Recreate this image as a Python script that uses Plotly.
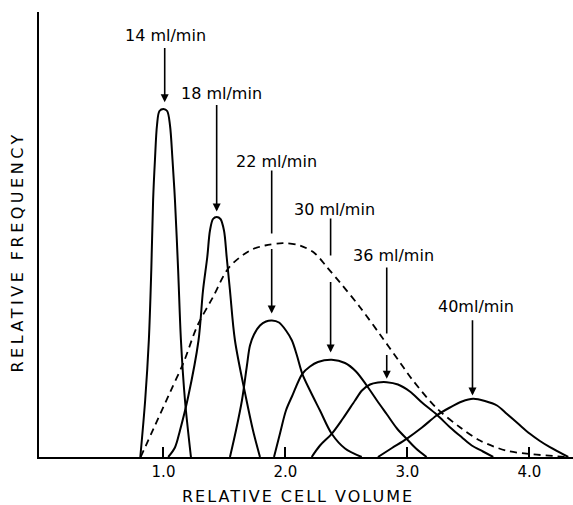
import plotly.graph_objects as go

# ---------------- data ----------------
x_14 = [0.81, 0.85, 0.88, 0.90, 0.915, 0.93, 0.947, 0.967, 1.0, 1.03, 1.053, 1.074, 1.094, 1.12, 1.143, 1.176, 1.225]
y_14 = [0, 0.57, 1.17, 1.87, 2.57, 2.97, 3.32, 3.46, 3.48, 3.46, 3.32, 2.97, 2.57, 1.87, 1.17, 0.57, 0]

x_18 = [1.039, 1.094, 1.135, 1.201, 1.287, 1.324, 1.359, 1.381, 1.406, 1.436, 1.467, 1.496, 1.518, 1.545, 1.586, 1.676, 1.734, 1.791]
y_18 = [0, 0.095, 0.265, 0.595, 1.165, 1.665, 2.0, 2.265, 2.38, 2.40, 2.38, 2.265, 2.0, 1.665, 1.165, 0.595, 0.265, 0]

x_22 = [1.545, 1.594, 1.643, 1.684, 1.709, 1.742, 1.791, 1.840, 1.889, 1.947, 2.004, 2.053, 2.094, 2.138, 2.201, 2.283, 2.379, 2.488, 2.625]
y_22 = [0, 0.265, 0.565, 0.915, 1.115, 1.225, 1.315, 1.355, 1.365, 1.345, 1.265, 1.165, 1.015, 0.832, 0.665, 0.465, 0.232, 0.085, 0]

x_30 = [1.906, 1.955, 2.004, 2.053, 2.138, 2.201, 2.266, 2.379, 2.488, 2.578, 2.666, 2.750, 2.832, 2.914, 2.993, 3.070, 3.157]
y_30 = [0, 0.235, 0.465, 0.605, 0.832, 0.905, 0.95, 0.972, 0.94, 0.855, 0.715, 0.565, 0.425, 0.285, 0.182, 0.085, 0]

x_36 = [2.215, 2.283, 2.379, 2.471, 2.570, 2.627, 2.693, 2.758, 2.830, 2.922, 3.020, 3.119, 3.239, 3.348, 3.447, 3.527, 3.619, 3.703]
y_36 = [0, 0.115, 0.232, 0.385, 0.565, 0.665, 0.725, 0.745, 0.748, 0.725, 0.655, 0.545, 0.425, 0.298, 0.195, 0.115, 0.055, 0]

x_40 = [2.758, 2.873, 2.993, 3.119, 3.239, 3.348, 3.447, 3.539, 3.635, 3.734, 3.816, 3.906, 4.004, 4.086, 4.168, 4.318]
y_40 = [0, 0.09, 0.182, 0.295, 0.415, 0.495, 0.555, 0.582, 0.56, 0.515, 0.43, 0.335, 0.232, 0.16, 0.098, 0]

x_total = [0.813, 0.930, 1.053, 1.168, 1.275, 1.406, 1.537, 1.709, 1.832, 1.980, 2.119, 2.242, 2.340, 2.447,
           2.611, 2.775, 2.939, 3.045, 3.242, 3.430, 3.594, 3.807, 4.004, 4.307]
y_total = [0, 0.315, 0.645, 0.955, 1.305, 1.60, 1.895, 2.065, 2.115, 2.138, 2.115, 2.035, 1.898, 1.745,
           1.498, 1.225, 0.945, 0.765, 0.485, 0.298, 0.165, 0.065, 0.03, 0]

flow_labels = ["14 ml/min", "18 ml/min", "22 ml/min", "30 ml/min", "36 ml/min", "40ml/min"]
tick_vals = [1, 2, 3, 4]
tick_text = ["1.0", "2.0", "3.0", "4.0"]

# ---------------- figure ----------------
fig = go.Figure()
curves = [(x_14, y_14), (x_18, y_18), (x_22, y_22), (x_30, y_30), (x_36, y_36), (x_40, y_40)]
for (xs, ys), name in zip(curves, flow_labels):
    fig.add_trace(go.Scatter(x=xs, y=ys, mode="lines", name=name,
                             line=dict(color="black", width=2, shape="spline", smoothing=0.9),
                             hoverinfo="skip", showlegend=False))
fig.add_trace(go.Scatter(x=x_total, y=y_total, mode="lines", name="total",
                         line=dict(color="black", width=1.8, dash="7px,5px", shape="spline", smoothing=0.9),
                         hoverinfo="skip", showlegend=False))

# arrows: (x, tail y, tip y, gap top, gap bottom) ; labels: (x, y)
arrows = [
    (1.01, 4.105, 3.548, None, None),
    (1.436, 3.535, 2.455, None, None),
    (1.887, 2.865, 1.435, 2.235, 2.095),
    (2.370, 2.385, 1.045, 2.015, 1.765),
    (2.830, 1.895, 0.782, 1.235, 1.035),
    (3.533, 1.382, 0.615, None, None),
]
label_pos = [(1.02, 4.215), (1.477, 3.632), (1.93, 2.958), (2.398, 2.472), (2.889, 2.015), (3.561, 1.505)]

FONT = "DejaVu Sans"
for (ax_, tail, tip, gtop, gbot), (lx, ly), txt in zip(arrows, label_pos, flow_labels):
    start = tail
    if gtop is not None:
        fig.add_shape(type="line", x0=ax_, x1=ax_, y0=tail, y1=gtop, xref="x", yref="y",
                      line=dict(color="black", width=1.6))
        start = gbot
    fig.add_annotation(x=ax_, y=tip, ax=ax_, ay=start, xref="x", yref="y", axref="x", ayref="y",
                       text="", showarrow=True, arrowhead=2, arrowsize=1, arrowwidth=1.6,
                       arrowcolor="black", standoff=0, startstandoff=0)
    fig.add_annotation(x=lx, y=ly, xref="x", yref="y", text=txt, showarrow=False,
                       font=dict(family=FONT, size=16, color="black"),
                       xanchor="center", yanchor="middle")

# axis titles (as annotations for exact placement)
fig.add_annotation(x=0.485, y=-0.088, xref="paper", yref="paper", showarrow=False,
                   text='<span style="letter-spacing:2px">RELATIVE CELL VOLUME</span>',
                   font=dict(family=FONT, size=16, color="black"), xanchor="center", yanchor="middle")
fig.add_annotation(x=-0.040, y=0.461, xref="paper", yref="paper", showarrow=False, textangle=-90,
                   text='<span style="letter-spacing:3.5px">RELATIVE FREQUENCY</span>',
                   font=dict(family=FONT, size=16, color="black"), xanchor="center", yanchor="middle")

fig.update_layout(
    width=573, height=505,
    margin=dict(l=39, r=0, t=12, b=48, pad=0),
    paper_bgcolor="white", plot_bgcolor="white",
    showlegend=False,
    xaxis=dict(range=[-0.0205, 4.357], showgrid=False, zeroline=False,
               showline=True, linecolor="black", linewidth=2,
               tickmode="array", tickvals=tick_vals, ticktext=tick_text,
               ticks="inside", ticklen=10, tickwidth=2, tickcolor="black",
               tickfont=dict(family=FONT, size=15, color="black")),
    yaxis=dict(range=[0, 4.45], showgrid=False, zeroline=False,
               showline=True, linecolor="black", linewidth=2,
               showticklabels=False, ticks=""),
)

fig.write_html("out.html")
